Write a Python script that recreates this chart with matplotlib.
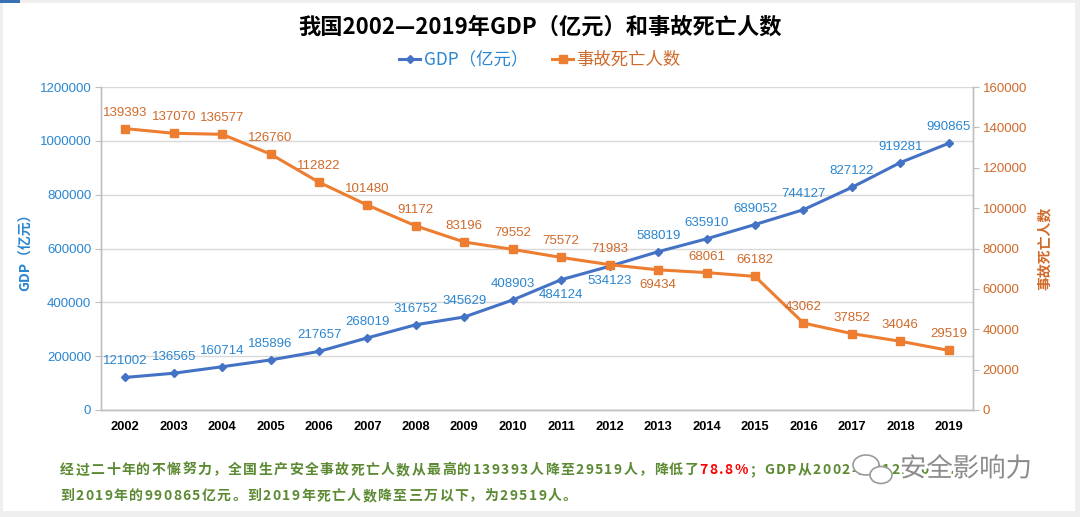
import matplotlib
matplotlib.use("Agg")
import matplotlib.pyplot as plt
from matplotlib.patches import Rectangle, Ellipse
from matplotlib.lines import Line2D
from matplotlib.ticker import FuncFormatter
import matplotlib.patheffects as pe

years = ["2002", "2003", "2004", "2005", "2006", "2007", "2008", "2009", "2010",
         "2011", "2012", "2013", "2014", "2015", "2016", "2017", "2018", "2019"]
gdp = [121002, 136565, 160714, 185896, 217657, 268019, 316752, 345629, 408903,
       484124, 534123, 588019, 635910, 689052, 744127, 827122, 919281, 990865]
deaths = [139393, 137070, 136577, 126760, 112822, 101480, 91172, 83196, 79552,
          75572, 71983, 69434, 68061, 66182, 43062, 37852, 34046, 29519]
gdp_ticks = [0, 200000, 400000, 600000, 800000, 1000000, 1200000]
death_ticks = [0, 20000, 40000, 60000, 80000, 100000, 120000, 140000, 160000]
gdp_below = {"2011", "2012"}
death_below = {"2013"}

title = "我国2002—2019年GDP（亿元）和事故死亡人数"
gdp_name = "GDP（亿元）"
death_name = "事故死亡人数"
note1a = "经过二十年的不懈努力，全国生产安全事故死亡人数从最高的139393人降至29519人，降低了"
note1b = "78.8%"
note1c = "；GDP从2002年的121002亿元增加"
note2 = "到2019年的990865亿元。到2019年死亡人数降至三万以下，为29519人。"
watermark = "安全影响力"

CJK = ["Noto Sans CJK SC", "DejaVu Sans"]
NUM = ["Liberation Sans", "Noto Sans CJK SC", "DejaVu Sans"]
plt.rcParams["font.family"] = CJK

BLUE_LINE = "#4472C4"
BLUE_TXT = "#2A86D1"
ORG_LINE = "#ED7D31"
ORG_TXT = "#D06A2A"
GREEN = "#5B8A32"
GRID = "#D9D9D9"
SPINE = "#BFBFBF"

W, H = 1080, 517
fig = plt.figure(figsize=(W / 100, H / 100), dpi=100)
fig.patch.set_facecolor("#EFEFEF")
fig.patches.append(Rectangle((3 / W, 6 / H), 1072 / W, 508 / H, transform=fig.transFigure,
                             facecolor="white", edgecolor="none", zorder=-10))
fig.patches.append(Rectangle((0, 1 - 3 / H), 20 / W, 3 / H, transform=fig.transFigure,
                             facecolor="#3B6FB6", edgecolor="none", zorder=-9))

ax = fig.add_axes([101 / W, 1 - 410 / H, 872 / W, 323 / H])
ax2 = ax.twinx()
x = list(range(len(years)))

ax.plot(x, gdp, color=BLUE_LINE, lw=2.2, marker="D", ms=4.2, zorder=3)
ax2.plot(x, deaths, color=ORG_LINE, lw=2.2, marker="s", ms=6.2, zorder=3)

ax.set_xlim(-0.5, len(years) - 0.5)
ax.set_ylim(0, 1200000)
ax2.set_ylim(0, 160000)
ax.set_yticks(gdp_ticks)
ax2.set_yticks(death_ticks)
plain = FuncFormatter(lambda v, p: f"{int(round(v))}")
ax.yaxis.set_major_formatter(plain)
ax2.yaxis.set_major_formatter(plain)
ax.set_xticks(x)
ax.set_xticklabels(years, fontsize=9.3, fontweight="bold", family=NUM, color="black")
ax.tick_params(axis="x", length=0, pad=8)
ax.tick_params(axis="y", length=4, color=SPINE, labelsize=9.5, labelcolor=BLUE_TXT, pad=3)
ax2.tick_params(axis="y", length=4, color=SPINE, labelsize=9.5, labelcolor=ORG_TXT, pad=3)
for lab in ax.get_yticklabels():
    lab.set_family(NUM)
for lab in ax2.get_yticklabels():
    lab.set_family(NUM)

ax.grid(axis="y", color=GRID, lw=1)
ax.set_axisbelow(True)
for a in (ax, ax2):
    a.spines["top"].set_visible(False)
    for s in ("left", "right", "bottom"):
        a.spines[s].set_color(SPINE)
        a.spines[s].set_linewidth(1)
ax.patch.set_visible(False)

ax.set_ylabel(gdp_name, color=BLUE_TXT, fontsize=10, fontweight="bold", labelpad=5)
ax2.set_ylabel(death_name, color=ORG_TXT, fontsize=10, fontweight="bold", rotation=90, labelpad=8)

for i, (yr, v) in enumerate(zip(years, gdp)):
    off = -15 if yr in gdp_below else 16
    ax.annotate(str(v), (i, v), xytext=(0, off * 0.72), textcoords="offset points",
                ha="center", va="center", fontsize=9.5, family=NUM, color=BLUE_TXT, zorder=5)
for i, (yr, v) in enumerate(zip(years, deaths)):
    off = -15 if yr in death_below else 16
    ax2.annotate(str(v), (i, v), xytext=(0, off * 0.72), textcoords="offset points",
                 ha="center", va="center", fontsize=9.5, family=NUM, color=ORG_TXT, zorder=5)

fig.text(0.5, 1 - 27 / H, title, ha="center", va="center", fontsize=16, fontweight="bold",
         color="black")

handles = [Line2D([], [], color=BLUE_LINE, lw=2.2, marker="D", ms=4.2),
           Line2D([], [], color=ORG_LINE, lw=2.2, marker="s", ms=6.2)]
leg = fig.legend(handles, [gdp_name, death_name], loc="center", bbox_to_anchor=(0.5, 1 - 60 / H),
                 ncol=2, frameon=False, fontsize=12.5, handlelength=1.2, handletextpad=0.2,
                 columnspacing=1.4, labelcolor=[BLUE_TXT, ORG_TXT])

# bottom note with letter spacing
fig.canvas.draw()
r = fig.canvas.get_renderer()
TRACK = 1.4


def tracked(xpx, ypx, s, color, size=10):
    for ch in s:
        t = fig.text(xpx / W, 1 - ypx / H, ch, ha="left", va="center", fontsize=size,
                     fontweight="bold", color=color, zorder=1)
        xpx += t.get_window_extent(renderer=r).width + TRACK
    return xpx


xp = tracked(60, 470, note1a, GREEN)
xp = tracked(xp, 470, note1b, "#FF0000")
tracked(xp, 470, note1c, GREEN)
tracked(60, 496, note2, GREEN)

# watermark
wm = fig.text(900 / W, 1 - 469 / H, watermark, ha="left", va="center", fontsize=19,
              fontweight="light", color="#8C8C8C", zorder=5,
              path_effects=[pe.withStroke(linewidth=4, foreground="white")])
for (cx, cy, ew, eh) in ((866, 465, 26, 20), (881, 475, 22, 17)):
    fig.patches.append(Ellipse((cx / W, 1 - cy / H), ew / W, eh / H, transform=fig.transFigure,
                               facecolor="white", edgecolor="#9A9A9A", lw=1.2, zorder=6))

fig.savefig("out.png", dpi=100, facecolor=fig.get_facecolor())
